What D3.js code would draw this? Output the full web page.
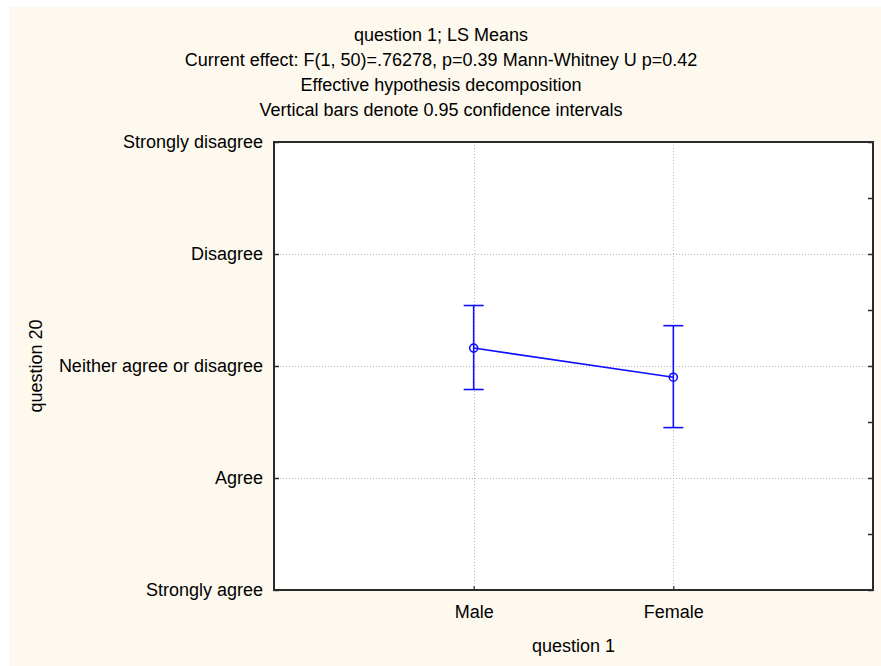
<!DOCTYPE html>
<html>
<head>
<meta charset="utf-8">
<script src="https://cdn.jsdelivr.net/npm/d3@7"></script>
<style>
  html, body { margin: 0; padding: 0; background: #ffffff; }
  svg { display: block; }
  text { font-family: Arial, "Liberation Sans", sans-serif; fill: #000; }
</style>
</head>
<body>
<script>
// ---- data ----
const titleLines = [
  "question 1; LS Means",
  "Current effect: F(1, 50)=.76278, p=0.39 Mann-Whitney U p=0.42",
  "Effective hypothesis decomposition",
  "Vertical bars denote 0.95 confidence intervals"
];
const categories = ["Male", "Female"];
const means = [3.16, 2.90];
const lowerCI = [2.79, 2.45];
const upperCI = [3.54, 3.36];
const yTickValues = [1, 2, 3, 4, 5];
const yTickLabels = ["Strongly agree", "Agree", "Neither agree or disagree", "Disagree", "Strongly disagree"];
const xTitle = "question 1";
const yTitle = "question 20";

// ---- layout ----
const W = 881, H = 666;
const plot = { left: 274, right: 873, top: 142, bottom: 590 };
const blue = "#1010ff";
const frameColor = "#2a2a2a";
const gridColor = "#b8b8b8";
const fs = 18;

const svg = d3.select("body").append("svg").attr("width", W).attr("height", H);

svg.append("rect").attr("x", 9).attr("y", 7).attr("width", W - 9).attr("height", H - 7)
  .attr("fill", "#fef9ee");

const x = d3.scalePoint().domain(categories).range([plot.left, plot.right]).padding(1);
const y = d3.scaleLinear().domain([1, 5]).range([plot.bottom, plot.top]);

// plot area
svg.append("rect").attr("x", plot.left).attr("y", plot.top)
  .attr("width", plot.right - plot.left).attr("height", plot.bottom - plot.top)
  .attr("fill", "#ffffff");

// gridlines
const grid = svg.append("g").attr("stroke", gridColor).attr("stroke-width", 1)
  .attr("stroke-dasharray", "1,2").attr("shape-rendering", "crispEdges");
grid.selectAll("line.h").data(yTickValues.filter(v => v > 1 && v < 5)).join("line")
  .attr("x1", plot.left).attr("x2", plot.right)
  .attr("y1", d => Math.round(y(d)) + 0.5).attr("y2", d => Math.round(y(d)) + 0.5);
grid.selectAll("line.v").data(categories).join("line")
  .attr("y1", plot.top).attr("y2", plot.bottom)
  .attr("x1", d => Math.round(x(d)) + 0.5).attr("x2", d => Math.round(x(d)) + 0.5);

// left axis (ticks inward)
const yAxisL = d3.axisLeft(y).tickValues(yTickValues)
  .tickFormat((d, i) => yTickLabels[i]).tickSizeInner(-5).tickSizeOuter(0).tickPadding(11);
const gL = svg.append("g").attr("transform", `translate(${plot.left},0)`).call(yAxisL);
gL.select(".domain").remove();
gL.selectAll(".tick line").attr("stroke", frameColor).attr("stroke-width", 1.5);
gL.selectAll(".tick text").attr("font-size", fs).attr("font-family", "Arial, 'Liberation Sans', sans-serif")
  .attr("fill", "#000");

// right axis (ticks inward, half steps)
const halfTicks = d3.range(1, 5.01, 0.5);
const yAxisR = d3.axisRight(y).tickValues(halfTicks).tickFormat("").tickSizeInner(-5).tickSizeOuter(0);
const gR = svg.append("g").attr("transform", `translate(${plot.right},0)`).call(yAxisR);
gR.select(".domain").remove();
gR.selectAll(".tick line").attr("stroke", frameColor).attr("stroke-width", 1.5);

// bottom axis (ticks inward)
const xAxis = d3.axisBottom(x).tickSizeInner(-4).tickSizeOuter(0).tickPadding(15);
const gB = svg.append("g").attr("transform", `translate(0,${plot.bottom})`).call(xAxis);
gB.select(".domain").remove();
gB.selectAll(".tick line").attr("stroke", frameColor).attr("stroke-width", 1.2);
gB.selectAll(".tick text").attr("font-size", fs).attr("font-family", "Arial, 'Liberation Sans', sans-serif")
  .attr("fill", "#000");

// frame
svg.append("rect").attr("x", plot.left).attr("y", plot.top)
  .attr("width", plot.right - plot.left).attr("height", plot.bottom - plot.top)
  .attr("fill", "none").attr("stroke", frameColor).attr("stroke-width", 2);

// data: line
const pts = categories.map((c, i) => ({ c, m: means[i], lo: lowerCI[i], hi: upperCI[i] }));
svg.append("path").datum(pts)
  .attr("d", d3.line().x(d => x(d.c)).y(d => y(d.m)))
  .attr("fill", "none").attr("stroke", blue).attr("stroke-width", 1.6);

// error bars
const eb = svg.append("g").attr("stroke", blue).attr("stroke-width", 1.6);
eb.selectAll("line.v").data(pts).join("line")
  .attr("x1", d => x(d.c)).attr("x2", d => x(d.c))
  .attr("y1", d => y(d.lo)).attr("y2", d => y(d.hi));
eb.selectAll("line.top").data(pts).join("line")
  .attr("x1", d => x(d.c) - 10).attr("x2", d => x(d.c) + 10)
  .attr("y1", d => y(d.hi)).attr("y2", d => y(d.hi));
eb.selectAll("line.bot").data(pts).join("line")
  .attr("x1", d => x(d.c) - 10).attr("x2", d => x(d.c) + 10)
  .attr("y1", d => y(d.lo)).attr("y2", d => y(d.lo));

// markers
svg.append("g").selectAll("circle").data(pts).join("circle")
  .attr("cx", d => x(d.c)).attr("cy", d => y(d.m)).attr("r", 4)
  .attr("fill", "none").attr("stroke", blue).attr("stroke-width", 1.6);

// titles
const tg = svg.append("g");
tg.selectAll("text").data(titleLines).join("text")
  .attr("x", 441).attr("y", (d, i) => 41 + i * 25)
  .attr("text-anchor", "middle").attr("font-size", fs).text(d => d);

svg.append("text").attr("x", (plot.left + plot.right) / 2).attr("y", 652)
  .attr("text-anchor", "middle").attr("font-size", fs).text(xTitle);

svg.append("text").attr("transform", `translate(42,${(plot.top + plot.bottom) / 2}) rotate(-90)`)
  .attr("text-anchor", "middle").attr("font-size", fs).text(yTitle);
</script>
</body>
</html>
